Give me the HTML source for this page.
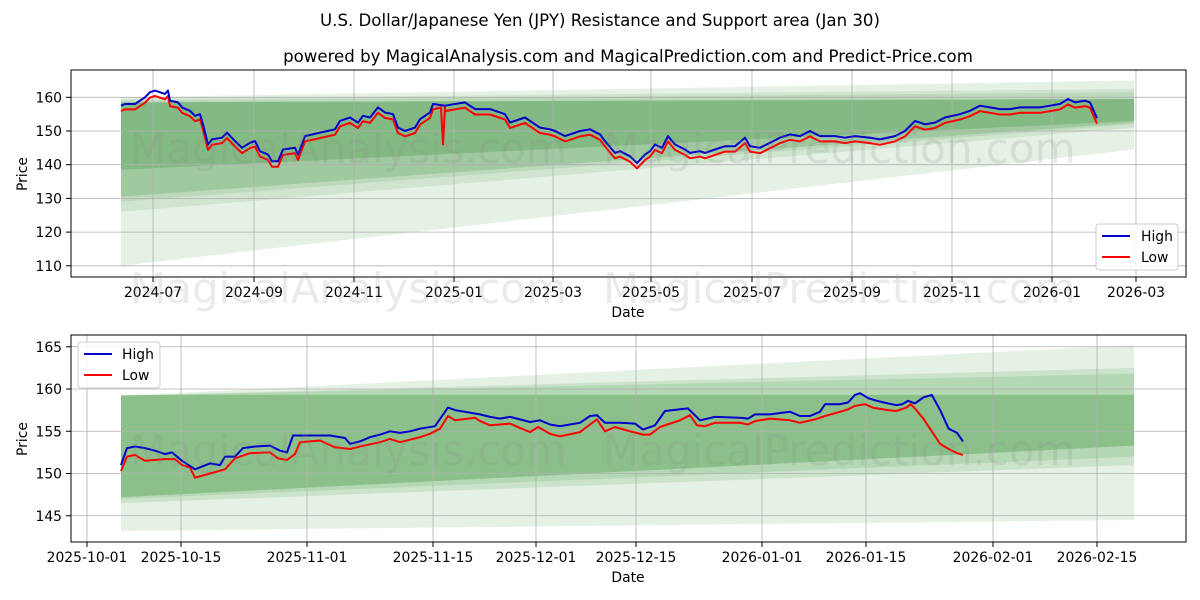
<!DOCTYPE html>
<html><head><meta charset="utf-8"><style>
body{margin:0;background:#fff;}
svg{display:block;font-family:"DejaVu Sans","Liberation Sans",sans-serif;}
</style></head><body>
<svg id="s" width="1200" height="600" xmlns="http://www.w3.org/2000/svg"></svg>
<script>
const S=document.getElementById('s');let h='';const FS=13.9;
h+='<rect width="1200" height="600" fill="#fff"/>';
h+='<text x="600" y="26" font-size="16.6" text-anchor="middle">U.S. Dollar/Japanese Yen (JPY) Resistance and Support area (Jan 30)</text>';
h+='<text x="628" y="62" font-size="16.6" text-anchor="middle">powered by MagicalAnalysis.com and MagicalPrediction.com and Predict-Price.com</text>';
function band(X0,X1,fy,t0,t1,b0,b1,op){return `<polygon points="${X0},${fy(t0)} ${X1},${fy(t1)} ${X1},${fy(b1)} ${X0},${fy(b0)}" fill="#2e8b2e" fill-opacity="${op}"/>`;}
function line(pts,fy,col){return `<polyline fill="none" stroke="${col}" stroke-width="2" stroke-linejoin="round" points="${pts.map(p=>p[0]+','+fy(p[1]).toFixed(1)).join(' ')}"/>`;}
const ty=v=>97.3+(160-v)*3.37;
let T='';
T+=band(121,1134,ty,160,165,110,144.5,0.12);
T+=band(121,1134,ty,159.5,162.5,126,151,0.12);
T+=band(121,1134,ty,159,161.5,129,152,0.12);
T+=band(121,1134,ty,158.5,159.5,130.5,152.5,0.2);
T+=band(121,1134,ty,158.5,159.5,138.5,153,0.25);
let g='';
[110,120,130,140,150,160].forEach(v=>{g+=`<line x1="71" x2="1186" y1="${ty(v)}" y2="${ty(v)}" stroke="#b0b0b0" stroke-width="0.8"/><line x1="66" x2="71" y1="${ty(v)}" y2="${ty(v)}" stroke="#000"/><text x="62" y="${ty(v)+5}" font-size="${FS}" text-anchor="end">${v}</text>`;});
const tx=[[153,'2024-07'],[254,'2024-09'],[354,'2024-11'],[454,'2025-01'],[553,'2025-03'],[651,'2025-05'],[752,'2025-07'],[852,'2025-09'],[952,'2025-11'],[1052,'2026-01'],[1136,'2026-03']];
tx.forEach(([x,l])=>{g+=`<line x1="${x}" x2="${x}" y1="70" y2="277" stroke="#b0b0b0" stroke-width="0.8"/><line x1="${x}" x2="${x}" y1="277" y2="282" stroke="#000"/><text x="${x}" y="297" font-size="${FS}" text-anchor="middle">${l}</text>`;});
const TH=[[121,157.5],[125,158],[135,158],[145,160],[150,161.5],[155,162],[165,161],[168,162],[170,159],[178,158.5],[182,157],[190,156],[195,154.5],[200,155],[203,152],[208,146],[212,147.5],[222,148],[227,149.5],[235,147],[242,145],[250,146.5],[255,147],[260,144],[268,143],[272,141],[278,141],[283,144.5],[295,145],[298,143],[305,148.5],[320,149.5],[335,150.5],[340,153],[350,154],[358,152.5],[363,154.5],[370,154],[378,157],[385,155.5],[393,155],[398,151],[405,150],[415,151],[420,153.5],[430,155.5],[433,158],[445,157.5],[455,158],[465,158.5],[475,156.5],[490,156.5],[505,155],[510,152.5],[525,154],[535,152],[540,151],[550,150.5],[555,150],[565,148.5],[570,149],[580,150],[590,150.5],[600,149],[605,147],[615,143.5],[620,144],[630,142.5],[637,140.5],[645,143],[650,144],[655,146],[662,145],[668,148.5],[675,146],[685,144.5],[690,143.5],[700,144],[705,143.5],[715,144.5],[725,145.5],[735,145.5],[745,148],[750,145.5],[760,145],[770,146.5],[780,148],[790,149],[800,148.5],[810,150],[820,148.5],[835,148.5],[845,148],[855,148.5],[870,148],[880,147.5],[895,148.5],[905,150],[915,153],[925,152],[935,152.5],[945,154],[960,155],[970,156],[980,157.5],[990,157],[1000,156.5],[1010,156.5],[1020,157],[1030,157],[1040,157],[1050,157.5],[1060,158],[1068,159.5],[1075,158.5],[1085,159],[1090,158.5],[1097,153.8]];
let TL=TH.map(p=>[p[0],p[1]-1.6]);
TL.splice(TL.findIndex(p=>p[0]>=445),0,[441,157],[443,146],[445,157]);
TL=TL.sort((a,b)=>a[0]-b[0]);
h+=T+g+line(TL,ty,'#f00')+line(TH,ty,'#00c');
h+='<rect x="71" y="70" width="1115" height="207" fill="none" stroke="#000"/>';
h+=`<text x="27" y="174" font-size="${FS}" text-anchor="middle" transform="rotate(-90 27 174)">Price</text>`;
h+=`<text x="628" y="317" font-size="${FS}" text-anchor="middle">Date</text>`;
h+=`<rect x="1096" y="224" width="82" height="46" rx="3" fill="#fff" fill-opacity="0.85" stroke="#ccc"/><line x1="1102" x2="1130" y1="236" y2="236" stroke="#00c" stroke-width="2"/><text x="1141" y="241" font-size="${FS}">High</text><line x1="1102" x2="1130" y1="257" y2="257" stroke="#f00" stroke-width="2"/><text x="1141" y="262" font-size="${FS}">Low</text>`;
const by=v=>389+(160-v)*8.45;
let B='';
B+=band(121,1134,by,159.2,165.2,143.2,144.5,0.12);
B+=band(121,1134,by,159.2,162.5,146.5,151,0.14);
B+=band(121,1134,by,159.2,161.8,147,152,0.14);
B+=band(121,1134,by,159.3,159.3,147.2,153.3,0.3);
let g2='';
[145,150,155,160,165].forEach(v=>{g2+=`<line x1="71" x2="1186" y1="${by(v)}" y2="${by(v)}" stroke="#b0b0b0" stroke-width="0.8"/><line x1="66" x2="71" y1="${by(v)}" y2="${by(v)}" stroke="#000"/><text x="62" y="${by(v)+5}" font-size="${FS}" text-anchor="end">${v}</text>`;});
const bx=[[87,'2025-10-01'],[181,'2025-10-15'],[307,'2025-11-01'],[433,'2025-11-15'],[536,'2025-12-01'],[636,'2025-12-15'],[762,'2026-01-01'],[866,'2026-01-15'],[993,'2026-02-01'],[1097,'2026-02-15']];
bx.forEach(([x,l])=>{g2+=`<line x1="${x}" x2="${x}" y1="335" y2="542" stroke="#b0b0b0" stroke-width="0.8"/><line x1="${x}" x2="${x}" y1="542" y2="547" stroke="#000"/><text x="${x}" y="562" font-size="${FS}" text-anchor="middle">${l}</text>`;});
const fx=x=>x>860?860+(x-860)*0.844:x;
const BH=[[121,151],[127,153],[135,153.2],[145,153],[155,152.7],[165,152.3],[172,152.5],[182,151.5],[195,150.5],[210,151.2],[220,151],[225,152],[235,152],[243,153],[255,153.2],[270,153.3],[280,152.7],[287,152.5],[293,154.5],[305,154.5],[320,154.5],[330,154.5],[345,154.2],[350,153.5],[360,153.8],[370,154.3],[380,154.6],[390,155],[400,154.8],[410,155],[420,155.3],[435,155.6],[448,157.8],[455,157.5],[465,157.3],[480,157],[490,156.7],[500,156.5],[510,156.7],[520,156.4],[530,156.1],[540,156.3],[550,155.8],[560,155.6],[570,155.8],[580,156],[590,156.8],[597,156.9],[605,156],[620,156],[635,155.9],[643,155.2],[655,155.7],[665,157.4],[688,157.7],[700,156.3],[715,156.7],[740,156.6],[748,156.5],[755,157],[770,157],[790,157.3],[800,156.8],[810,156.8],[820,157.3],[825,158.2],[840,158.2],[848,158.4],[855,159.3],[860,159.5],[870,158.9],[880,158.6],[893,158.3],[903,158.1],[910,158.2],[917,158.6],[925,158.3],[935,159],[945,159.3],[955,157.5],[965,155.3],[975,154.8],[982,153.8]].map(p=>[fx(p[0]),p[1]]);
const BL=[[121,150.3],[127,152],[135,152.2],[145,151.5],[165,151.7],[175,151.7],[182,151],[190,150.7],[195,149.5],[210,150],[225,150.5],[235,151.8],[250,152.4],[270,152.5],[278,151.8],[287,151.6],[295,152.3],[300,153.7],[320,153.9],[335,153.1],[350,152.9],[360,153.2],[380,153.7],[390,154.1],[400,153.7],[420,154.3],[430,154.7],[440,155.3],[448,156.8],[455,156.3],[475,156.6],[480,156.2],[490,155.7],[500,155.8],[510,155.9],[520,155.4],[530,154.9],[538,155.5],[550,154.7],[560,154.4],[580,154.9],[590,155.8],[597,156.4],[605,155],[615,155.5],[630,155],[643,154.6],[650,154.6],[660,155.5],[680,156.3],[690,156.9],[697,155.7],[705,155.6],[715,156],[740,156],[748,155.8],[755,156.2],[770,156.5],[790,156.3],[800,156],[815,156.4],[825,156.8],[840,157.3],[848,157.6],[855,158],[866,158.2],[875,157.8],[893,157.5],[903,157.4],[915,157.8],[920,158.2],[925,157.7],[935,156.5],[945,155],[955,153.5],[965,152.9],[975,152.4],[982,152.2]].map(p=>[fx(p[0]),p[1]]);
h+=B+g2+line(BL,by,'#f00')+line(BH,by,'#00c');
h+='<rect x="71" y="335" width="1115" height="207" fill="none" stroke="#000"/>';
h+=`<text x="27" y="439" font-size="${FS}" text-anchor="middle" transform="rotate(-90 27 439)">Price</text>`;
h+=`<text x="628" y="582" font-size="${FS}" text-anchor="middle">Date</text>`;
h+=`<rect x="78" y="342" width="82" height="46" rx="3" fill="#fff" fill-opacity="0.85" stroke="#ccc"/><line x1="84" x2="112" y1="354" y2="354" stroke="#00c" stroke-width="2"/><text x="122" y="359" font-size="${FS}">High</text><line x1="84" x2="112" y1="375" y2="375" stroke="#f00" stroke-width="2"/><text x="122" y="380" font-size="${FS}">Low</text>`;
[[163],[303],[465]].forEach(([y])=>{h+=`<text x="130" y="${y}" font-size="42" fill="#888" fill-opacity="0.18">MagicalAnalysis.com</text><text x="603" y="${y}" font-size="42" fill="#888" fill-opacity="0.18">MagicalPrediction.com</text>`;});
S.innerHTML=h;
</script>
</body></html>
